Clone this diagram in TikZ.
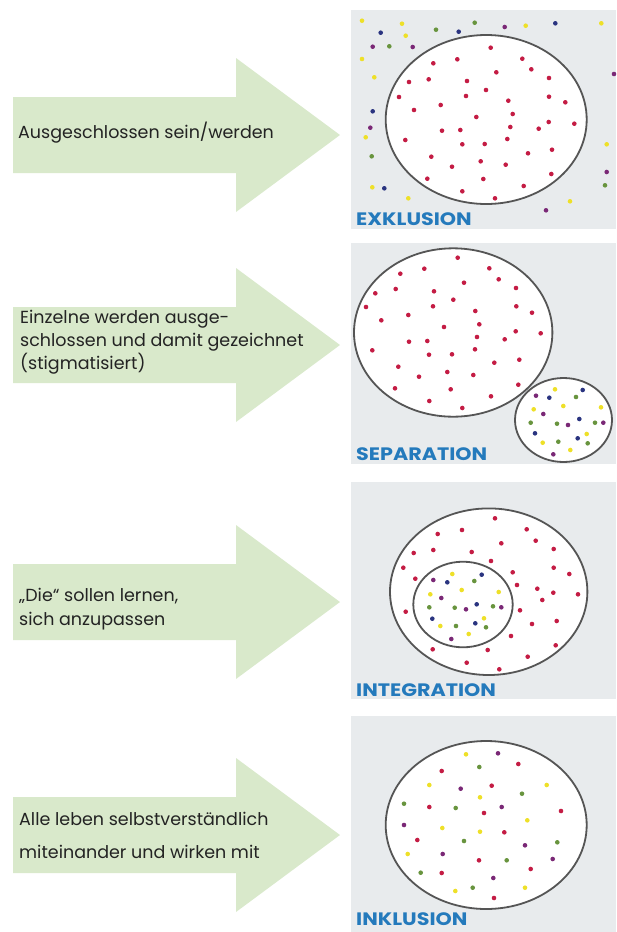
\documentclass[tikz,border=0pt]{standalone}
\usepackage{fontspec}
\setmainfont{Poppins}
\definecolor{pfeilgruen}{RGB}{217,233,203}
\definecolor{feldgrau}{RGB}{232,235,237}
\definecolor{titelblau}{RGB}{36,122,188}
\definecolor{ringgrau}{RGB}{85,85,85}
\definecolor{textgrau}{RGB}{35,35,35}
\definecolor{ptrot}{RGB}{196,28,68}
\definecolor{ptgelb}{RGB}{238,224,40}
\definecolor{ptgruen}{RGB}{104,148,62}
\definecolor{ptblau}{RGB}{42,52,128}
\definecolor{ptlila}{RGB}{122,40,118}

% Pfeil mit Mitte bei y=#1
\newcommand{\gruenpfeil}[1]{%
  \fill[pfeil] (13,#1-38) -- (236,#1-38) -- (236,#1-77) -- (340,#1)
    -- (236,#1+77) -- (236,#1+38) -- (13,#1+38) -- cycle;}
% breiter Titel
\newcommand{\titeltext}[1]{\scalebox{1.15}[1]{#1}}

\begin{document}
\begin{tikzpicture}[x=1pt,y=-1pt,
    pfeil/.style={fill=pfeilgruen},
    feld/.style={fill=feldgrau},
    ring/.style={draw=ringgrau,line width=1.8pt,fill=white},
    beschr/.style={anchor=north west,inner sep=0pt,align=left,text=textgrau},
    titel/.style={anchor=base west,inner sep=0pt,text=titelblau,font=\bfseries\fontsize{18}{18}\selectfont}]
    \useasboundingbox (0,0) rectangle (616,932);

    % Pfeile
    \gruenpfeil{135}
    \gruenpfeil{345}
    \gruenpfeil{602}
    \gruenpfeil{835}

    \node[beschr,font=\fontsize{17.5}{23}\selectfont] (t1) at (18,122) {Ausgeschlossen sein/werden};
    \node[beschr,font=\fontsize{17.5}{23}\selectfont] (t2) at (20,310)
      {Einzelne werden ausge-\\schlossen und damit gezeichnet\\(stigmatisiert)};
    \node[beschr,font=\fontsize{17.5}{24}\selectfont] (t3) at (19,588)
      {„Die“ sollen lernen,\\sich anzupassen};
    \node[beschr,font=\fontsize{17.5}{33}\selectfont] (t4) at (19,812)
      {Alle leben selbstverständlich\\miteinander und wirken mit};

    % Exklusion
    \fill[feld] (351,10) rectangle (616,229);
    \draw[ring] (486.2,119.5) ellipse [x radius=100.5pt,y radius=84.5pt];
    \foreach \p in {(490.7,47.7),(433.3,63.3),(457.3,59.3),(522.3,58.7),(531.3,69.3),(496.3,72.3),
      (409,82),(428.7,79.3),(467,81),(549,78),(486,90),(399,97),(466,96),(549,96.7),(508.3,100.7),
      (565.3,102.3),(414,110),(440.7,105),(512.7,114),(476.3,117),(548.7,122),(574.3,123.7),
      (442,130.7),(460.3,130),(510.3,127),(538.7,128.7),(405.3,140),(462.3,144.3),(484.7,144),
      (507.3,139),(552,149.7),(528,153.3),(431.3,156.7),(480.7,161.3),(452,166.7),(505.7,164.7),
      (427.3,178.7),(483.3,179),(551.3,174),(523.7,186),(462.3,191.3),(495,198.3)}
      \fill[ptrot] \p circle (2.3pt);
    \foreach \p in {(362,20.7),(402,23.7),(525.7,25.7),(601.3,23.3),(405.7,35.7),(362,59),(374.3,77.3),
      (365.7,137.3),(606.7,144.3),(372.3,187.3),(408.3,198.3),(570,201.3)}
      \fill[ptgelb] \p circle (2.3pt);
    \foreach \p in {(436,29.7),(474.7,22.7),(389.3,46.3),(371.7,156.3),(605,185.3)}
      \fill[ptgruen] \p circle (2.3pt);
    \foreach \p in {(555.3,23.3),(380.7,32.7),(458.7,31.7),(372.7,111.3),(384.3,188.3)}
      \fill[ptblau] \p circle (2.3pt);
    \foreach \p in {(504.7,27),(372.7,46.7),(412.7,47),(614,74),(370.3,127.7),(606.7,172),(546,210.3)}
      \fill[ptlila] \p circle (2.3pt);
    \node[titel] (exkl) at (356,225) {\titeltext{EXKLUSION}};

    % Separation
    \fill[feld] (351,243) rectangle (616,464);
    \draw[ring] (453.2,332.5) ellipse [x radius=99.2pt,y radius=84.2pt];
    \foreach \p in {(457.7,257.7),(424.3,268.7),(489.3,268.3),(400.3,273.7),(498.7,279.3),(464,282.7),
      (375.3,293.3),(395.7,289),(434,291.3),(516,288),(453.3,299.7),(366,307),(433,306.3),(516.3,306.3),
      (408.3,315),(475.3,311),(532,312.7),(381.3,320.3),(479.3,324.3),(444,327),(515.7,331.3),
      (540.7,333.3),(477,337),(504.7,339.3),(409,341.7),(427.3,341),(372.3,350.3),(475,349.3),
      (429,354.7),(452,354.3),(519.3,359.7),(494.3,362.7),(398.3,366.7),(447.3,372),(419,376.7),
      (473.3,375),(518.3,384.7),(395,388.3),(450.7,389.3),(491,396.3),(429.3,401),(462.3,408)}
      \fill[ptrot] \p circle (2.3pt);
    \draw[ring] (563.5,420) ellipse [x radius=48.5pt,y radius=42pt];
    \foreach \p in {(555,389.3),(563.3,406),(533.7,409.3),(601,407.3),(586.7,434),(542.7,442.7),(570.3,450)}
      \fill[ptgelb] \p circle (2.3pt);
    \foreach \p in {(576,397),(530.7,422.7),(557,423.7),(595,422.7),(558.3,441.7),(587.7,443.3)}
      \fill[ptgruen] \p circle (2.3pt);
    \foreach \p in {(582.7,390),(549.3,397.7),(579.3,419),(535,433.3),(577.7,438.3)}
      \fill[ptblau] \p circle (2.3pt);
    \foreach \p in {(536,395.7),(543.3,414),(568,425),(603.3,422.7),(553.3,454.3)}
      \fill[ptlila] \p circle (2.3pt);
    \node[titel] (sepa) at (356,460) {\titeltext{SEPARATION}};

    % Integration
    \fill[feld] (351,482) rectangle (616,699);
    \draw[ring] (488.7,591.7) ellipse [x radius=98.7pt,y radius=83.3pt];
    \foreach \p in {(495,518.3),(437.7,534),(462,530),(526.7,529.3),(535.7,540.7),(501.3,543.3),
      (413.7,553),(433.3,550),(471.7,552),(553.7,549),(491,561),(403.3,567.7),(553.7,567.7),
      (512.7,572.3),(569.3,574),(415.3,578.7),(517,585),(537.3,588.7),(553.3,592.7),(578,594.3),
      (542.3,600),(405.7,611.7),(520,610.3),(556.7,621),(532,624),(511,636),(555.7,645.3),
      (432.7,649.3),(487.7,650),(527.7,656.7),(466.7,662.7),(499.3,669.3)}
      \fill[ptrot] \p circle (2.3pt);
    \draw[ring] (463,604.5) ellipse [x radius=49.7pt,y radius=42.8pt];
    \foreach \p in {(452.3,574),(461.7,590),(430.3,594.3),(498.7,592),(484,618.3),(440.3,626),(468.7,634)}
      \fill[ptgelb] \p circle (2.3pt);
    \foreach \p in {(474.3,581),(429.3,607.3),(454.7,607.7),(493,606.3),(456,626),(486,627.3)}
      \fill[ptgruen] \p circle (2.3pt);
    \foreach \p in {(481.7,574.7),(447.3,582.3),(476.7,604.3),(432.3,618.7),(475.3,623.3)}
      \fill[ptblau] \p circle (2.3pt);
    \foreach \p in {(433.3,580),(441.3,598),(466,609.3),(501.3,607.3),(451.3,639)}
      \fill[ptlila] \p circle (2.3pt);
    \node[titel] (inte) at (356,696) {\titeltext{INTEGRATION}};

    % Inklusion
    \fill[feld] (351,716) rectangle (616,932);
    \draw[ring] (486.2,825) ellipse [x radius=100.5pt,y radius=84pt];
    \foreach \p in {(518.3,764),(441.7,771),(491.7,785.7),(429.3,807),(484,813),(561,811),
      (504.3,832.3),(417.3,840),(479,860.3),(530.7,869),(441.7,873),(494,898)}
      \fill[ptrot] \p circle (2.3pt);
    \foreach \p in {(466,754.3),(429.3,785),(546.7,785),(480,797.3),(527.3,820.3),(442.3,828),
      (480,831.7),(407.7,854),(455.3,891),(525,887.7)}
      \fill[ptgelb] \p circle (2.3pt);
    \foreach \p in {(479.3,767),(522,793.7),(404,803.7),(455.7,808),(464,841),(557.3,842.3),
      (506.7,860.3),(420.7,872.7),(472.7,887.7)}
      \fill[ptgruen] \p circle (2.3pt);
    \foreach \p in {(498,753.3),(460.7,788.7),(501.7,807),(404,825),(525,845.3),(442.7,854),
      (552.7,859),(493.3,878)}
      \fill[ptlila] \p circle (2.3pt);
    \node[titel] (inkl) at (356,925) {\titeltext{INKLUSION}};
\end{tikzpicture}
\end{document}
